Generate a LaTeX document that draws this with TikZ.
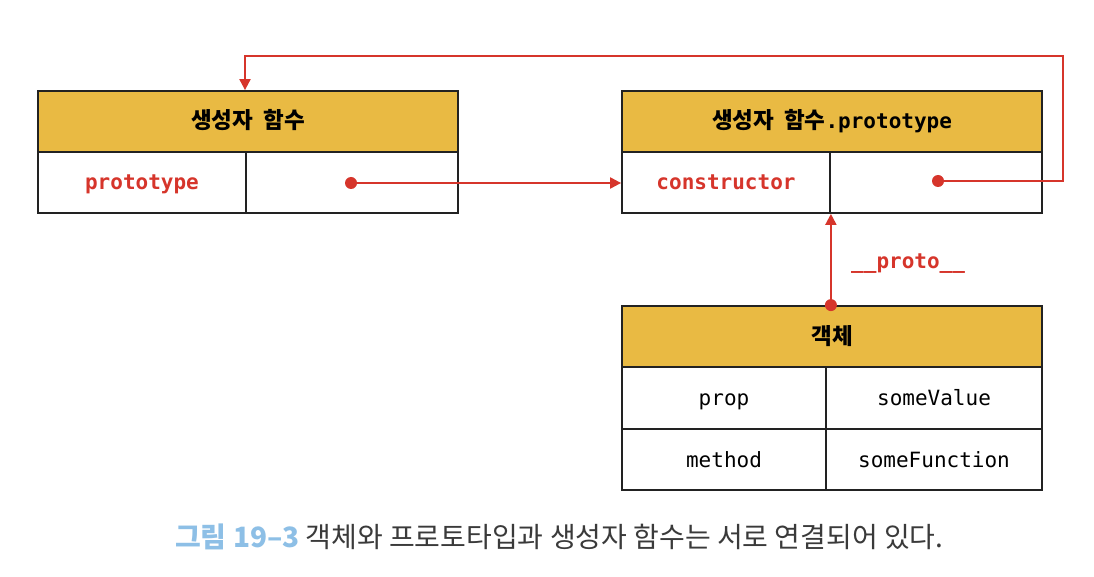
\documentclass[tikz,border=0pt]{standalone}
\usepackage{fontspec}
\setmonofont{DejaVu Sans Mono}
\newfontfamily\cjk{Noto Sans CJK KR}
\usetikzlibrary{arrows.meta,calc}
\definecolor{gold}{HTML}{E9BA43}
\definecolor{redc}{HTML}{D6352B}
\definecolor{edge}{HTML}{222222}
\definecolor{capblue}{HTML}{8DBFE6}
\definecolor{capgray}{HTML}{3A3A3A}
\tikzset{
  box/.style={draw=edge, line width=1.8pt, inner sep=0pt, minimum height=61pt, text height=18pt, text depth=3pt},
  hdr/.style={box, fill=gold, minimum width=420pt, font=\fontsize{21}{24}\selectfont},
  cell/.style={box, fill=white, font=\ttfamily\fontsize{21}{24}\selectfont},
  keycell/.style={cell, text=redc, font=\ttfamily\bfseries\fontsize{21}{24}\selectfont},
  link/.style={draw=redc, line width=2pt, -{Triangle[length=11pt,width=11pt]}},
  dot/.style={fill=redc},
}
\newcommand{\kbold}[1]{{\cjk\bfseries\fontsize{22.5}{26}\selectfont #1}}
\begin{document}
\begin{tikzpicture}[x=1pt,y=-1pt]
\useasboundingbox[fill=white] (0,0) rectangle (1094,577);
% constructor function
\node[hdr] (hdrL) at (248,121.5) {\kbold{생성자\hspace{10pt}함수}};
\node[keycell, minimum width=208pt] (cellLa) at (142,182.5) {prototype};
\node[cell, minimum width=212pt] (cellLb) at (352,182.5) {};
% prototype object
\node[hdr] (hdrR) at (832,121.5) {\kbold{생성자\hspace{10pt}함수}{\ttfamily\bfseries .prototype}};
\node[keycell, minimum width=208pt] (cellRa) at (726,182.5) {constructor};
\node[cell, minimum width=212pt] (cellRb) at (936,182.5) {};
% object
\node[hdr] (hdrC) at (832,336.5) {\kbold{객체}};
\node[cell, minimum width=204pt] (cellCa) at (724,398) {prop};
\node[cell, minimum width=216pt] (cellCb) at (934,398) {someValue};
\node[cell, minimum width=204pt] (cellCc) at (724,459.5) {method};
\node[cell, minimum width=216pt] (cellCd) at (934,459.5) {someFunction};
% dots
\coordinate (dotL) at (351,183);
\coordinate (dotR) at (938,181);
\coordinate (dotC) at (hdrC.north -| cellRa.south east);
\coordinate (turnA) at (1063,181);
\coordinate (turnB) at (1063,56);
\coordinate (turnC) at (245,56);
\coordinate (hdrLtop) at ($(hdrL.north)+(-3,0)$);
% connectors
\draw[link] (dotL) -- (dotL -| cellRa.west);
\draw[link] (dotR) -- (turnA) -- (turnB) -- (turnC) -- (hdrLtop);
\draw[link] (dotC) -- node[right=16pt, pos=0.45, text=redc, font=\ttfamily\bfseries\fontsize{21}{24}\selectfont] (protoLbl) {\_\_proto\_\_} (cellRa.south east);
\fill[dot] (dotL) circle (6);
\fill[dot] (dotR) circle (6);
\fill[dot] (dotC) circle (6);
% caption
\node[anchor=west, inner sep=0pt, font=\cjk\fontsize{28}{32}\selectfont, text=capgray] (cap) at (175,537)
  {{\color{capblue}\bfseries 그림 19–3}\hspace{6pt}객체와 프로토타입과 생성자 함수는 서로 연결되어 있다.};
\end{tikzpicture}
\end{document}
